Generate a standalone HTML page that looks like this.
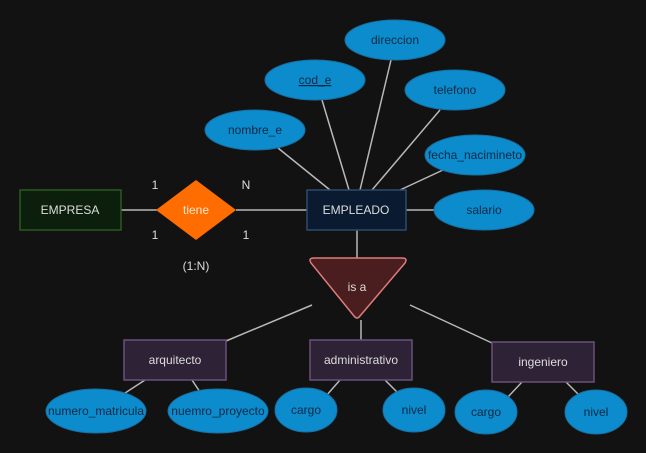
<!DOCTYPE html>
<html><head><style>body{margin:0;background:#121212;}svg{display:block}</style></head><body>
<svg width="646" height="453" viewBox="0 0 646 453" font-family="Liberation Sans, sans-serif" font-size="12">
<rect width="646" height="453" fill="#121212"/>
<g stroke="#b8b8b8" stroke-width="1.5" fill="none">
<line x1="121" y1="210" x2="157" y2="210"/>
<line x1="236" y1="210" x2="307" y2="210"/>
<line x1="406" y1="210" x2="434" y2="210"/>
<line x1="278" y1="148" x2="330" y2="190"/>
<line x1="322" y1="100" x2="349" y2="190"/>
<line x1="391" y1="60" x2="360" y2="190"/>
<line x1="440" y1="110" x2="372" y2="190"/>
<line x1="443" y1="170" x2="400" y2="190"/>
<line x1="357" y1="230" x2="357" y2="258"/>
<line x1="226" y1="341" x2="312" y2="305"/>
<line x1="492" y1="343" x2="410" y2="305"/>
<line x1="361" y1="320" x2="361" y2="340"/>
<line x1="145" y1="380" x2="122" y2="395"/>
<line x1="192" y1="380" x2="202" y2="395"/>
<line x1="340" y1="380" x2="326" y2="396"/>
<line x1="385" y1="380" x2="401" y2="396"/>
<line x1="522" y1="382" x2="507" y2="398"/>
<line x1="566" y1="382" x2="582" y2="398"/>
</g>
<rect x="20" y="190" width="101" height="40" fill="#0c1f0c" stroke="#2a5a22" stroke-width="1.5"/>
<text x="70" y="214" fill="#ddd" text-anchor="middle">EMPRESA</text>
<polygon points="196,180 236,210 196,240 156,210" fill="#ff6d00"/>
<text x="196" y="214" fill="#ffe6cc" text-anchor="middle">tiene</text>
<rect x="307" y="190" width="99" height="40" fill="#0a1a30" stroke="#2e4a70" stroke-width="1.5"/>
<text x="356" y="214" fill="#ddd" text-anchor="middle">EMPLEADO</text>
<g fill="#ddd" text-anchor="middle"><text x="155" y="189">1</text><text x="246" y="189">N</text><text x="155" y="239">1</text><text x="246" y="239">1</text><text x="196" y="270">(1:N)</text></g>
<path d="M314,258 L402,258 Q408,258 405,263 L360,316 Q357,320 354,316 L311,263 Q308,258 314,258 Z" fill="#4a1e1e" stroke="#e07b7b" stroke-width="1.5"/>
<text x="357" y="291" fill="#ddd" text-anchor="middle">is a</text>
<g fill="#2e2236" stroke="#6a4f7a" stroke-width="1.5">
<rect x="124" y="340" width="102" height="40"/><rect x="310" y="340" width="102" height="40"/><rect x="492" y="342" width="102" height="40"/>
</g>
<g fill="#ddd" text-anchor="middle"><text x="175" y="364">arquitecto</text><text x="361" y="364">administrativo</text><text x="543" y="366">ingeniero</text></g>
<g fill="#0c8ccd" stroke="#1a6fa0" stroke-width="1">
<ellipse cx="395" cy="40" rx="50" ry="20"/><ellipse cx="315" cy="80" rx="50" ry="20"/><ellipse cx="455" cy="90" rx="50" ry="20"/>
<ellipse cx="255" cy="130" rx="50" ry="20"/><ellipse cx="475" cy="155" rx="50" ry="20"/><ellipse cx="484" cy="210" rx="50" ry="20"/>
<ellipse cx="96" cy="411" rx="50" ry="22"/><ellipse cx="218" cy="411" rx="50" ry="22"/>
<ellipse cx="306" cy="410" rx="31" ry="22"/><ellipse cx="414" cy="410" rx="31" ry="22"/>
<ellipse cx="486" cy="412" rx="31" ry="22"/><ellipse cx="596" cy="412" rx="31" ry="22"/>
</g>
<g fill="#0a2a44" text-anchor="middle">
<text x="395" y="44">direccion</text><text x="315" y="84" text-decoration="underline">cod_e</text><text x="455" y="94">telefono</text>
<text x="255" y="134">nombre_e</text><text x="475" y="159">fecha_nacimineto</text><text x="484" y="214">salario</text>
<text x="96" y="415">numero_matricula</text><text x="218" y="415">nuemro_proyecto</text>
<text x="306" y="414">cargo</text><text x="414" y="414">nivel</text><text x="486" y="416">cargo</text><text x="596" y="416">nivel</text>
</g>
</svg>
</body></html>
